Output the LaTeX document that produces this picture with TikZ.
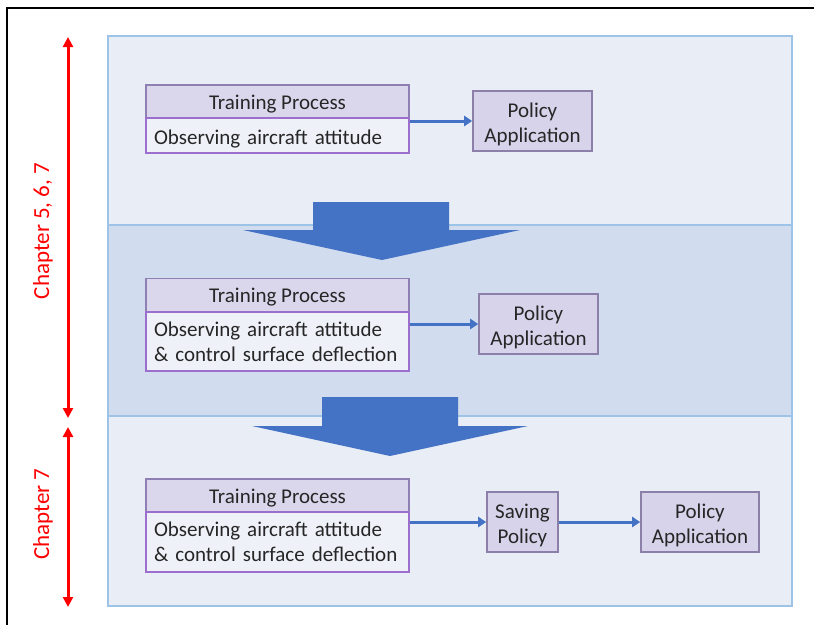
\documentclass[tikz,border=0pt]{standalone}
\usepackage{fontspec}
\setmainfont{Carlito}
\usetikzlibrary{arrows.meta,shadows}

\definecolor{panelLight}{HTML}{E9EDF6}
\definecolor{panelDark}{HTML}{D1DCEE}
\definecolor{panelEdge}{HTML}{9DC3E6}
\definecolor{headFill}{HTML}{DAD7EC}
\definecolor{headEdge}{HTML}{8F80B4}
\definecolor{bodyFill}{HTML}{EFF1F9}
\definecolor{bodyEdge}{HTML}{9C6FCF}
\definecolor{polFill}{HTML}{D6D3EA}
\definecolor{polEdge}{HTML}{8C7FAA}
\definecolor{flowBlue}{HTML}{4472C4}
\definecolor{txt}{HTML}{262626}

% tall invisible strut that pushes the first text line a little lower
\newcommand{\lowerline}{\rule{0pt}{21pt}}

\tikzset{
  panel/.style={draw=panelEdge, line width=1.4pt},
  header/.style={draw=headEdge, fill=headFill, line width=1.4pt, minimum width=263pt,
    minimum height=33pt, inner sep=0pt, text height=17pt, text depth=2pt,
    text=txt, font=\fontsize{21}{25}\selectfont},
  body/.style={draw=bodyEdge, fill=bodyFill, line width=1.4pt, text width=247pt,
    inner xsep=8pt, inner ysep=0pt, align=left, text=txt,
    font=\fontsize{21}{25}\selectfont},
  policy/.style={draw=polEdge, fill=polFill, line width=1.6pt, minimum height=60pt,
    inner sep=0pt, align=center, text=txt, font=\fontsize{21}{25}\selectfont,
    drop shadow={opacity=0.25, shadow xshift=1.2pt, shadow yshift=-1.2pt}},
  flow/.style={draw=flowBlue, line width=3pt, -{Triangle[length=8pt,width=10pt]}},
  bigarrow/.style={fill=flowBlue},
  chapter/.style={draw=red, line width=3pt, {Triangle[length=10pt,width=10pt]}-{Triangle[length=10pt,width=10pt]}},
  chaptext/.style={text=red, rotate=90, font=\fontsize{23}{27}\selectfont}
}

\begin{document}
\begin{tikzpicture}[x=1pt, y=-1pt]
  \useasboundingbox (0,0) rectangle (814,624);
  \fill[white] (0,0) rectangle (814,624);

  % outer frame
  \draw[line width=2pt] (7,640) -- (7,8) -- (830,8);

  % three stage panels
  \fill[panelLight] (108,36) rectangle (792,225);
  \fill[panelDark] (108,225) rectangle (792,416);
  \fill[panelLight] (108,416) rectangle (792,606);
  \draw[panel] (108,36) rectangle (792,606);
  \draw[panel] (108,225) -- (792,225);
  \draw[panel] (108,416) -- (792,416);

  % block arrows between stages
  \fill[bigarrow] (313,202) -- (449,202) -- (449,230) -- (520,230) -- (382,260)
    -- (243,230) -- (313,230) -- cycle;
  \fill[bigarrow] (322,397) -- (458,397) -- (458,426) -- (528,426) -- (390,456)
    -- (252,426) -- (322,426) -- cycle;

  % stage 1
  \node[header] (h1) at (277.5,101.5) {Training Process};
  \node[body, minimum height=35pt] (b1) at (277.5,135.5) {\lowerline Observing aircraft attitude};
  \node[policy, minimum width=119pt] (p1) at (532.5,121) {\lowerline Policy\\Application};
  \draw[flow] (p1.west -| b1.east) -- (p1.west);

  % stage 2
  \node[header] (h2) at (277.5,295) {Training Process};
  \node[body, minimum height=59pt] (b2) at (277.5,341.5) {Observing aircraft attitude\\\& control surface deflection};
  \node[policy, minimum width=119pt] (p2) at (538.5,324) {\lowerline Policy\\Application};
  \draw[flow] (p2.west -| b2.east) -- (p2.west);

  % stage 3
  \node[header] (h3) at (277.5,495.5) {Training Process};
  \node[body, minimum height=60pt] (b3) at (277.5,542) {Observing aircraft attitude\\\& control surface deflection};
  \node[policy, minimum width=71pt] (s3) at (522.5,522) {\lowerline Saving\\Policy};
  \node[policy, minimum width=118pt] (p3) at (700,522) {\lowerline Policy\\Application};
  \draw[flow] (s3.west -| b3.east) -- (s3.west);
  \draw[flow] (s3.east) -- (p3.west);

  % chapter ranges
  \coordinate (c1top) at (68,37);
  \coordinate (c1bot) at (68,418);
  \coordinate (c2top) at (68,427);
  \coordinate (c2bot) at (68,607);
  \draw[chapter] (c1top) -- (c1bot);
  \draw[chapter] (c2top) -- (c2bot);
  \node[chaptext] (t1) at (43,231) {Chapter 5, 6, 7};
  \node[chaptext] (t2) at (43,514) {Chapter 7};
\end{tikzpicture}
\end{document}
